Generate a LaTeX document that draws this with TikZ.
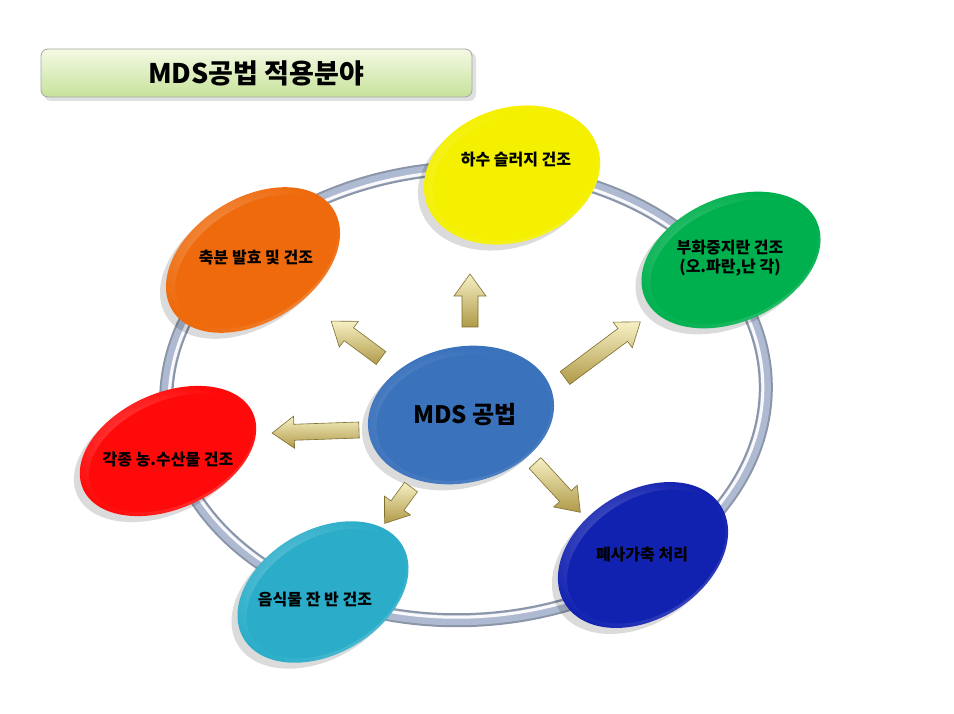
\documentclass[tikz,border=0pt]{standalone}
\usepackage{fontspec}
\newfontfamily\kr{Noto Sans CJK KR}
\usetikzlibrary{shapes.geometric}
\definecolor{ringc}{HTML}{AEBAD2}
\definecolor{cyel}{HTML}{F4F000}
\definecolor{cgrn}{HTML}{00B04E}
\definecolor{corg}{HTML}{EE6A0C}
\definecolor{cred}{HTML}{FF0A0A}
\definecolor{cteal}{HTML}{2BADC9}
\definecolor{cblu}{HTML}{1222B0}
\definecolor{ccen}{HTML}{3B72BC}
\definecolor{goldL}{HTML}{F6F0C4}
\definecolor{goldD}{HTML}{B09A48}
\definecolor{goldE}{HTML}{7E6E30}
\definecolor{titL}{HTML}{F4FAE4}
\definecolor{titD}{HTML}{C6E29A}
\tikzset{
  lbl/.style={font=\kr\bfseries\fontsize{16}{19}\selectfont, text=black, align=center, inner sep=0pt},
  shadowfill/.style={fill=black, opacity=0.14},
}
\newcommand{\blobell}[6]{% cx cy rx ry angle color
  \fill[shadowfill, rotate around={#5:(#1-6,#2+6)}] (#1-6,#2+6) ellipse [x radius=#3, y radius=#4];
  \shade[rotate around={#5:(#1,#2)}, inner color=#6!55!white, outer color=#6] (#1,#2) ellipse [x radius=#3, y radius=#4];
  \fill[rotate around={#5:(#1,#2)}, #6] (#1+2,#2+3) ellipse [x radius=#3-6, y radius=#4-6];
}
\newcommand{\blockarr}[4]{% x y angle length
  \begin{scope}[shift={(#1,#2)}, rotate=#3]
    \shade[top color=goldL, bottom color=goldD, draw=goldE, line width=0.6pt]
      (0,-8) -- (#4-22,-8) -- (#4-22,-16) -- (#4,0) -- (#4-22,16) -- (#4-22,8) -- (0,8) -- cycle;
  \end{scope}
}
\begin{document}
\begin{tikzpicture}[x=1pt,y=-1pt]
\useasboundingbox (0,0) rectangle (954,714);
\fill[white] (0,0) rectangle (954,714);
% title
\fill[black, opacity=0.12, rounded corners=7] (44,52) rectangle (476,101);
\shade[top color=titL, bottom color=titD, draw=black!35, line width=0.8pt, rounded corners=7] (41,49) rectangle (472,97);
\node[font=\kr\bfseries\fontsize{27}{30}\selectfont, inner sep=0pt] (title) at (256,73) {MDS공법 적용분야};
% ring
\draw[line width=14pt, ringc!80!black, rotate around={3:(466,394)}] (466,394) ellipse [x radius=300, y radius=226];
\draw[line width=10pt, ringc, rotate around={3:(466,394)}] (466,394) ellipse [x radius=300, y radius=226];
\draw[line width=3pt, white!92!ringc, rotate around={3:(466,394)}] (466,394) ellipse [x radius=297, y radius=223];
% satellites
\blobell{512}{175}{90}{67}{18}{cyel}
\blobell{731}{260}{94}{62}{24}{cgrn}
\blobell{253}{260}{95}{62}{32}{corg}
\blobell{168}{451}{93}{58}{24}{cred}
\blobell{323}{592}{92}{62}{30}{cteal}
\blobell{643}{555}{92}{64}{32}{cblu}
% center
\blobell{461}{415}{94}{68}{12}{ccen}
% arrows
\blockarr{470}{327}{90}{53}
\blockarr{381}{358}{143.5}{62}
\blockarr{359}{430}{182}{87}
\blockarr{411}{487}{234}{45}
\blockarr{535}{463}{312.6}{67}
\blockarr{565}{378}{36.7}{94}
% labels
\node[lbl] (mds) at (465,415) {\fontsize{24}{28}\selectfont MDS 공법};
\node[lbl] (sewage) at (516,160) {하수 슬러지 건조};
\node[lbl] (egg) at (730,258) {부화중지란 건조\\(오.파란,난 각)};
\node[lbl] (manure) at (256,258) {축분 발효 및 건조};
\node[lbl] (agri) at (168,460) {각종 농.수산물 건조};
\node[lbl] (food) at (315,600) {음식물 잔 반 건조};
\node[lbl] (carcass) at (642,555) {폐사가축 처리};
\end{tikzpicture}
\end{document}
